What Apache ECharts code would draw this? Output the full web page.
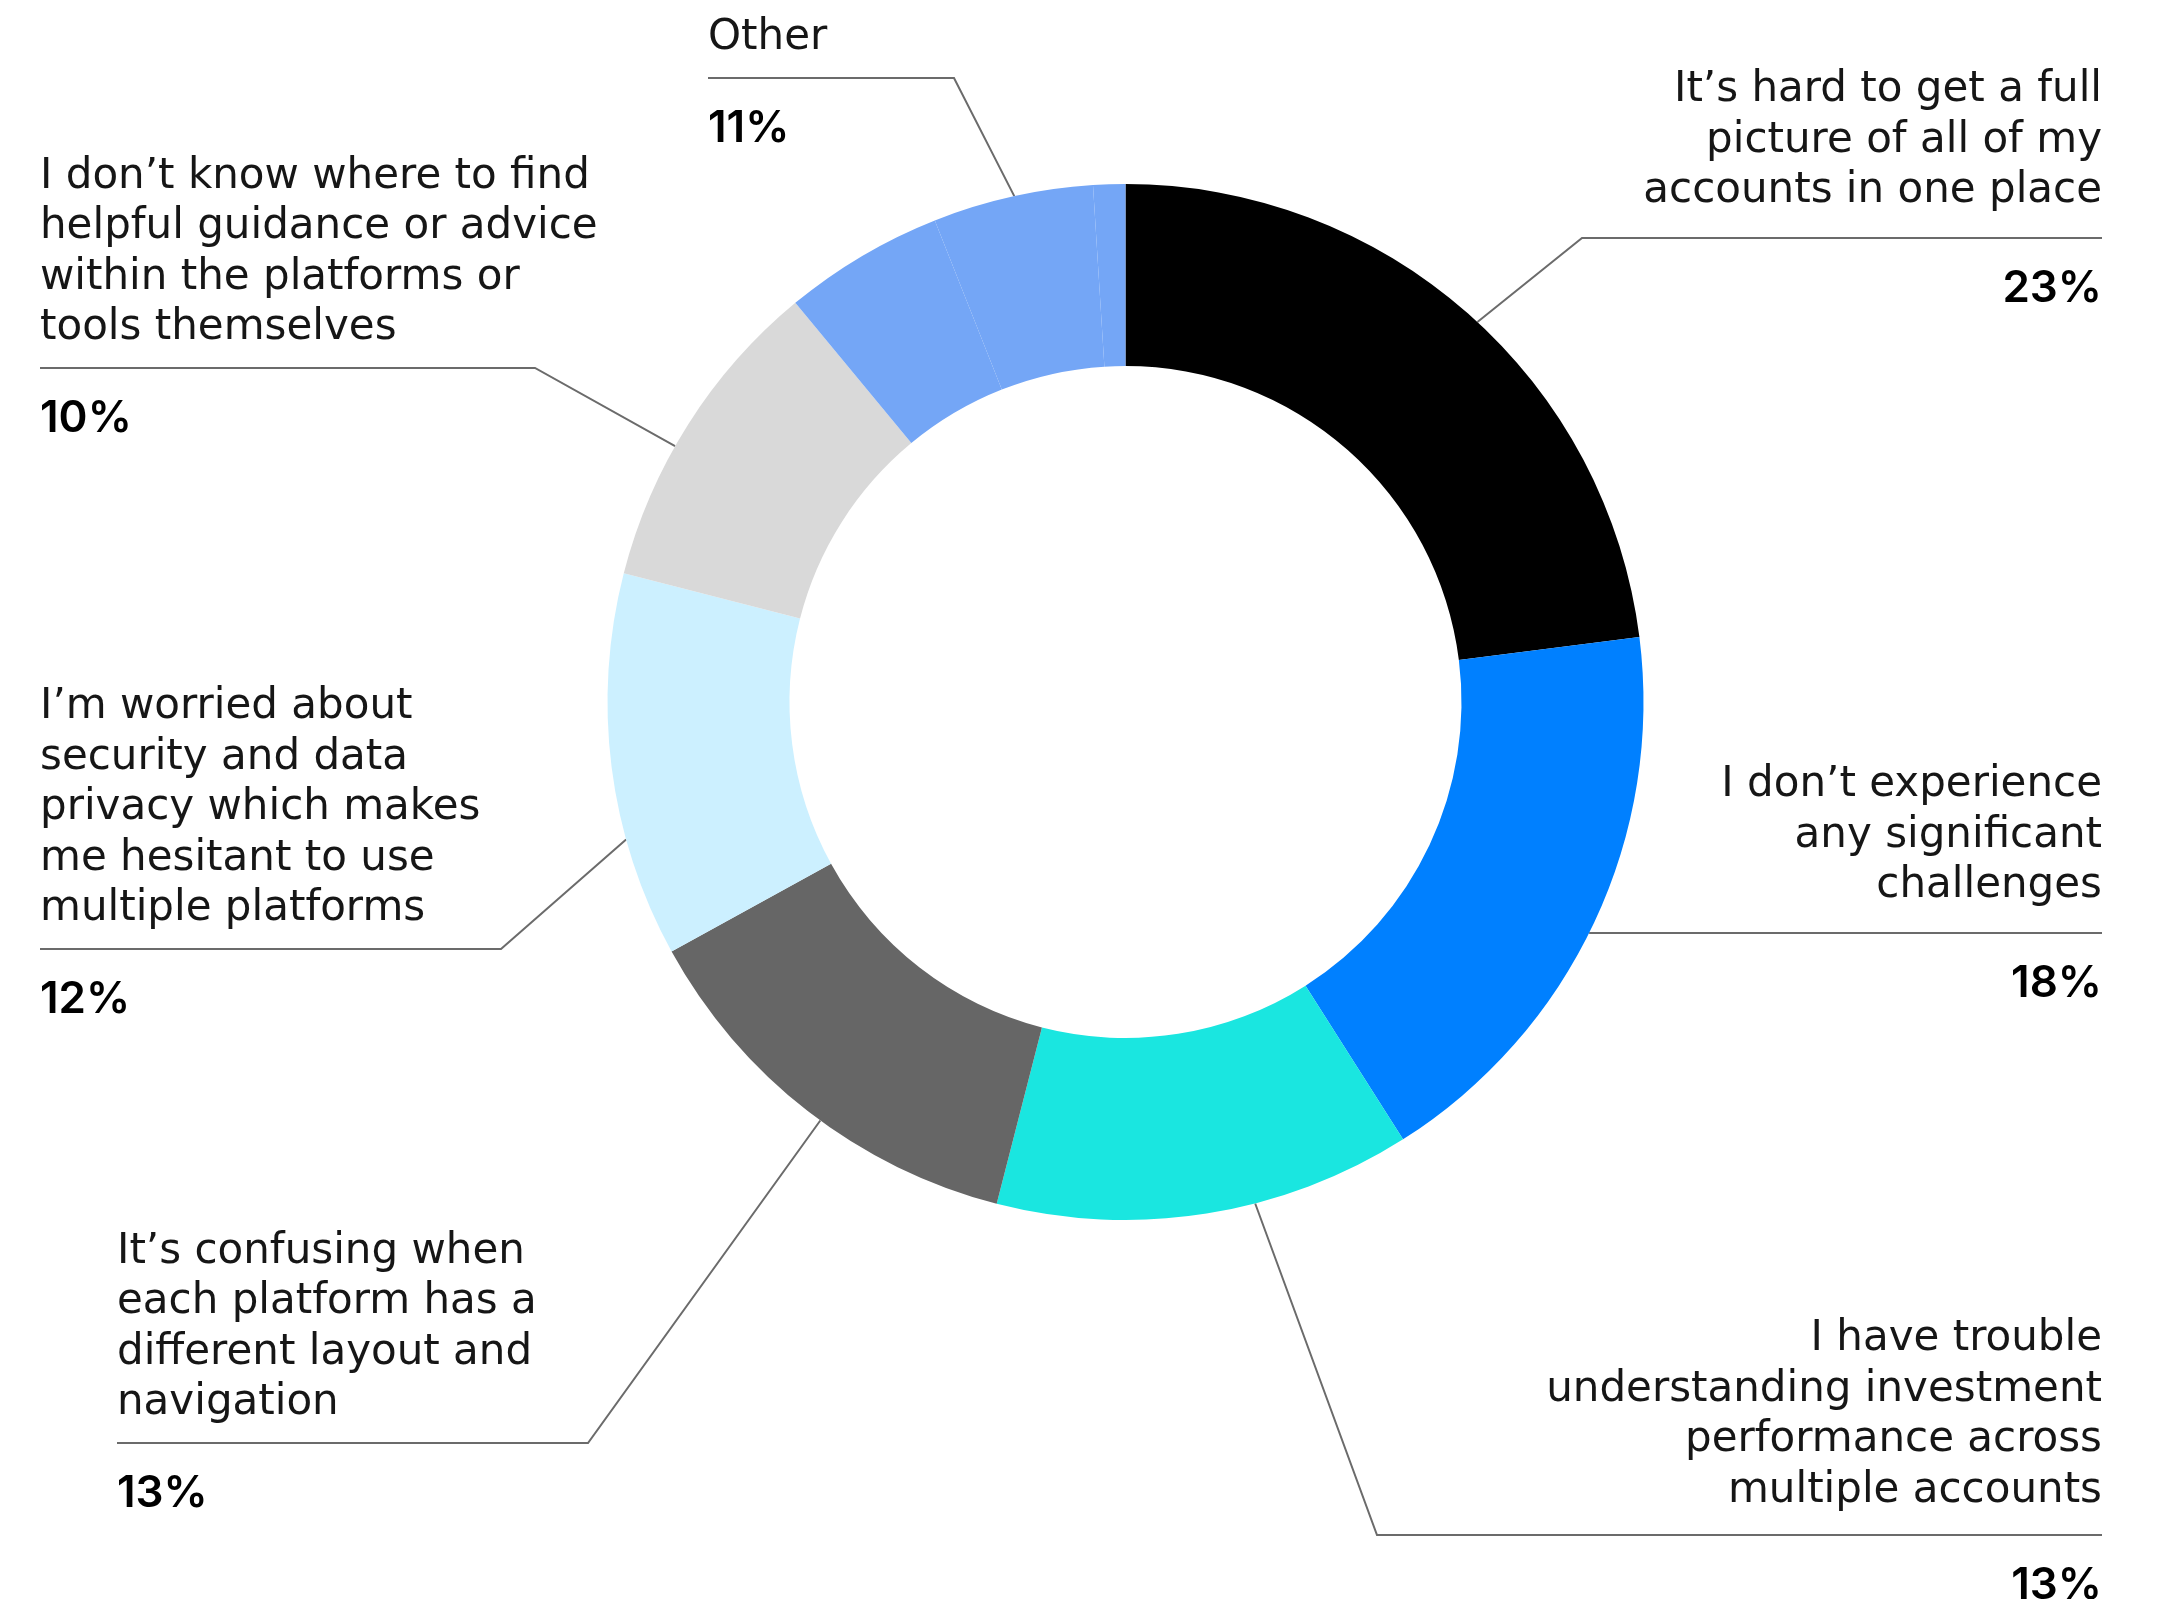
<!DOCTYPE html>
<html>
<head>
<meta charset="utf-8">
<title>Challenges of managing accounts across platforms</title>
<script src="https://cdn.jsdelivr.net/npm/echarts@6/dist/echarts.min.js"></script>
<style>
  html, body { margin: 0; padding: 0; background: #ffffff; }
  #chart { width: 2163px; height: 1599px; }
</style>
</head>
<body>
<div id="chart"></div>
<script>
// Survey answers, in clockwise order from 12 o'clock. Each label is stored pre-wrapped.
const labelLines = [
  ["It\u2019s hard to get a full", "picture of all of my", "accounts in one place"],
  ["I don\u2019t experience", "any significant", "challenges"],
  ["I have trouble", "understanding investment", "performance across", "multiple accounts"],
  ["It\u2019s confusing when", "each platform has a", "different layout and", "navigation"],
  ["I\u2019m worried about", "security and data", "privacy which makes", "me hesitant to use", "multiple platforms"],
  ["I don\u2019t know where to find", "helpful guidance or advice", "within the platforms or", "tools themselves"]
];
const values = [23, 18, 13, 13, 12, 10];           // percent of respondents
const otherLines = ["Other"];
const otherParts = [5, 5, 1];                       // "Other" is drawn as three pieces
const sliceColors = ["#000000", "#0080FF", "#1AE6E0", "#666666", "#CCF0FF", "#D9D9D9"];
const otherColor = "#74A6F6";

// Ring geometry
const CENTER = [1125.5, 702];
const RADIUS = [336, 518];

// Label typography
const TEXT_FONT = "DejaVu Sans";
const PCT_FONT = "Inter";
const LH = 50.5;          // line height of the answer text
const GAP_BELOW = 50.5;   // rule -> centre of the percentage

// Callout rules: angle on the rim where the leader leaves (degrees clockwise from 12 o'clock),
// the bend, the horizontal rule under the text and the rule's free end
const callouts = [
  { side: "right", rim: 42.8,  lineY: 238,  bend: [1582, 238],  end: 2102, gapAbove: 46.5 },
  { side: "right", rim: null,  lineY: 933,  bend: null,         end: 2102, gapAbove: 46.5 },
  { side: "right", rim: 165.5, lineY: 1535, bend: [1377, 1535], end: 2102, gapAbove: 44 },
  { side: "left",  rim: 216.1, lineY: 1443, bend: [588, 1443],  end: 117,  gapAbove: 39.5 },
  { side: "left",  rim: 254.6, lineY: 949,  bend: [501, 949],   end: 40,   gapAbove: 39.5 },
  { side: "left",  rim: 299.6, lineY: 368,  bend: [535, 368],   end: 40,   gapAbove: 39.5 },
  { side: "left",  rim: 347.6, lineY: 78,   bend: [954, 78],    end: 708,  gapAbove: 39.5 }
];

const sum = arr => arr.reduce((a, b) => a + b, 0);
const otherTotal = sum(otherParts);

function labelFor(c, lines, pct) {
  return {
    show: true,
    formatter: lines.map(l => "{t|" + l + "}").join("\n") + "\n{p|" + pct + "%}",
    rich: {
      t: { fontFamily: TEXT_FONT, fontSize: 42, lineHeight: LH, color: "#161616", align: c.side },
      p: {
        fontFamily: PCT_FONT, fontWeight: 600, fontSize: 44, color: "#000000", align: c.side,
        lineHeight: 2 * (c.gapAbove + GAP_BELOW) - LH
      }
    }
  };
}

function rimPoint(deg) {
  const a = deg * Math.PI / 180;
  return [CENTER[0] + RADIUS[1] * Math.sin(a), CENTER[1] - RADIUS[1] * Math.cos(a)];
}

// Build pie items; remember which callout belongs to which data index
const data = [];
const calloutOf = {};
const linesOf = {};
values.forEach((v, i) => {
  calloutOf[data.length] = i;
  linesOf[data.length] = labelLines[i];
  data.push({
    name: labelLines[i].join(" "),
    value: v,
    itemStyle: { color: sliceColors[i] },
    label: labelFor(callouts[i], labelLines[i], v)
  });
});
otherParts.forEach((v, k) => {
  const labelled = k === 1;   // the callout leaves from the middle piece
  const item = {
    name: "Other " + (k + 1),
    value: v,
    itemStyle: { color: otherColor }
  };
  if (labelled) {
    calloutOf[data.length] = 6;
    linesOf[data.length] = otherLines;
    item.label = labelFor(callouts[6], otherLines, otherTotal);
  } else {
    item.label = { show: false };
    item.labelLine = { show: false };
  }
  data.push(item);
});

const chart = echarts.init(document.getElementById("chart"), null, { renderer: "canvas" });

chart.setOption({
  backgroundColor: "#ffffff",
  animation: false,
  series: [{
    type: "pie",
    center: CENTER,
    radius: RADIUS,
    startAngle: 90,
    clockwise: true,
    avoidLabelOverlap: false,
    silent: true,
    itemStyle: { borderWidth: 0 },
    emphasis: { disabled: true },
    label: {
      show: true,
      position: "outside",
      width: 900,
      overflow: "none",
      color: "#161616"
    },
    labelLine: {
      show: true,
      length: 20,
      length2: 20,
      smooth: false,
      lineStyle: { color: "#6b6b6b", width: 2 }
    },
    labelLayout: function (params) {
      const ci = calloutOf[params.dataIndex];
      if (ci == null) return {};
      const c = callouts[ci];
      const n = linesOf[params.dataIndex].length;
      const top = c.lineY - c.gapAbove - (n - 0.5) * LH;
      let p0, bend;
      if (c.rim == null) {
        // a flat rule that starts right on the outer rim
        const dy = c.lineY - CENTER[1];
        const x = CENTER[0] + Math.sqrt(RADIUS[1] * RADIUS[1] - dy * dy);
        p0 = [x, c.lineY];
        bend = [x, c.lineY];
      } else {
        p0 = rimPoint(c.rim);
        bend = c.bend;
      }
      return {
        x: c.end,
        y: top,
        align: c.side,
        verticalAlign: "top",
        width: 900,
        labelLinePoints: [p0, bend, [c.end, c.lineY]]
      };
    },
    data: data
  }]
});
</script>
</body>
</html>
